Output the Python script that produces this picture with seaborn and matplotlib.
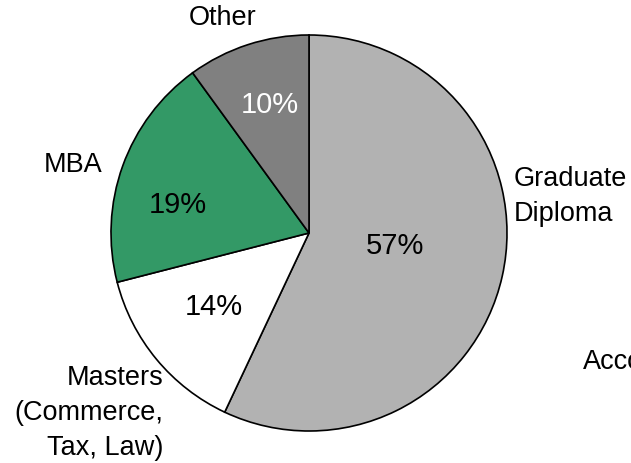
import matplotlib
matplotlib.use("Agg")
import matplotlib.pyplot as plt
import seaborn as sns

sns.set_theme(style="white")
plt.rcParams['font.family'] = ['Liberation Sans', 'DejaVu Sans']

# Data
categories = ["Graduate\nDiploma", "Masters\n(Commerce,\nTax, Law)", "MBA", "Other"]
shares = [57, 14, 19, 10]
colors = ["#b2b2b2", "#ffffff", "#339966", "#808080"]
pct_colors = ["#000000", "#000000", "#000000", "#ffffff"]

W, H = 631, 464
cx, cy, r = 309, 234, 198  # pie centre / radius in pixels

fig = plt.figure(figsize=(W / 100, H / 100), dpi=100)
fig.patch.set_facecolor("white")
ax = fig.add_axes([(cx - r) / W, (H - cy - r) / H, 2 * r / W, 2 * r / H])

wedges, texts, autotexts = ax.pie(
    shares, colors=colors, startangle=90, counterclock=False,
    autopct="%d%%", pctdistance=0.5, labeldistance=None,
    wedgeprops=dict(edgecolor="black", linewidth=1.2),
    textprops=dict(fontsize=21),
)
for t, c in zip(autotexts, pct_colors):
    t.set_color(c)

ax.set_xlim(-1, 1)
ax.set_ylim(-1, 1)
ax.set_aspect("equal")
ax.axis("off")

# pixel -> data coords helper
def px(x, y):
    return ((x - cx) / r, (cy - y) / r)

pct_pos = [(395, 246), (214, 307), (178, 205), (270, 105)]
for t, (x, y) in zip(autotexts, pct_pos):
    t.set_position(px(x, y))
    t.set_ha("center")
    t.set_va("center")

# outer category labels
label_specs = [
    (514, 197, "left", "left"),
    (163, 413, "right", "right"),
    (73, 165, "center", "center"),
    (223, 18, "center", "center"),
]
for name, (x, y, ha, ma) in zip(categories, label_specs):
    ax.text(*px(x, y), name, ha=ha, va="center", multialignment=ma,
            fontsize=19.5, color="black", linespacing=1.45)

# leftover label running off the right edge
ax.text(*px(583, 362), "Accounting", ha="left", va="center", fontsize=19.5, color="black")

fig.savefig("out.png", dpi=100, facecolor="white")
